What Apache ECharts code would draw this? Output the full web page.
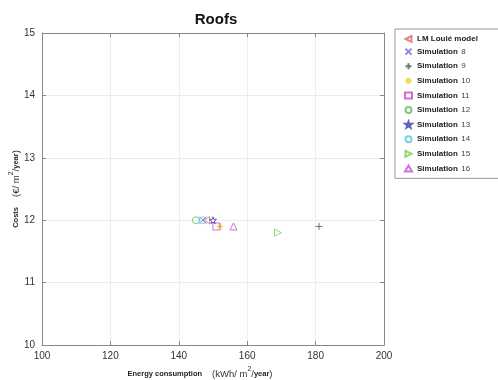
<!DOCTYPE html>
<html>
<head>
<meta charset="utf-8">
<script src="https://cdn.jsdelivr.net/npm/echarts@6/dist/echarts.min.js"></script>
<style>
  html, body { margin: 0; padding: 0; background: #fff; }
  #container { width: 498px; height: 380px; }
</style>
</head>
<body>
<div id="container"></div>
<script>
// series names and values (energy kWh/m2/year, costs €/m2/year)
let seriesNames = ['LM Loulé model', 'Simulation 8', 'Simulation 9', 'Simulation 10', 'Simulation 11',
    'Simulation 12', 'Simulation 13', 'Simulation 14', 'Simulation 15', 'Simulation 16'];
let energyValues = [148, 147, 181, 152, 151, 145, 150, 147, 169, 156];
let costValues = [12.0, 12.0, 11.9, 11.9, 11.9, 12.0, 12.0, 12.0, 11.8, 11.9];
let xTicks = [100, 120, 140, 160, 180, 200];
let yTicks = [10, 11, 12, 13, 14, 15];

// marker look per series
let symbols = [
    'path://M10 0L0 5L10 10Z',            // left triangle
    'path://M0 0L10 10M10 0L0 10',        // x
    'path://M5 0L5 10M0 5L10 5',          // +
    'path://M5 0L5 10M0 5L10 5M1.5 1.5L8.5 8.5M8.5 1.5L1.5 8.5', // asterisk-like
    'rect',
    'circle',
    'path://M5 0L6.2 3.6L10 3.6L6.9 5.9L8.1 9.5L5 7.3L1.9 9.5L3.1 5.9L0 3.6L3.8 3.6Z', // star
    'circle',
    'path://M0 0L10 5L0 10Z',             // right triangle
    'triangle'
];
let colors = ['#e06666', '#6a6ad8', '#555555', '#f2d21a', '#cc44cc', '#55c055', '#3a3aa8', '#55c8d8', '#77d055', '#c050c8'];

let series = seriesNames.map(function (name, i) {
    return {
        name: name,
        type: 'scatter',
        symbol: symbols[i],
        symbolSize: 7,
        itemStyle: {
            color: 'transparent',
            borderColor: colors[i],
            borderWidth: 1
        },
        data: [[energyValues[i], costValues[i]]]
    };
});

let myChart = echarts.init(document.getElementById('container'));
let axisLine = { show: true, lineStyle: { color: '#888', width: 1 } };
let nameRich = {
    b: { fontSize: 7.5, fontWeight: 'bold', color: '#222', fontFamily: 'Liberation Sans' },
    r: { fontSize: 9.5, color: '#333', fontFamily: 'Liberation Sans' },
    g: { width: 10 },
    s: { fontSize: 7, color: '#333', fontFamily: 'Liberation Sans', padding: [0, 0, 9, 0] }
};
let option = {
    animation: false,
    title: {
        text: 'Roofs',
        left: 211,
        top: 7,
        textAlign: 'center',
        textStyle: { fontFamily: 'Liberation Sans', fontSize: 15, fontWeight: 'bold', color: '#111' }
    },
    legend: {
        orient: 'vertical',
        left: 395,
        top: 29,
        padding: [6, 40, 4, 9],
        itemWidth: 7,
        itemHeight: 6,
        itemGap: 2.6,
        borderColor: '#999',
        borderWidth: 1,
        data: seriesNames,
        formatter: function (name) {
            if (name.indexOf('Simulation') === 0) {
                return '{b|Simulation} {n|' + name.split(' ')[1] + '}';
            }
            return '{b|' + name + '}';
        },
        textStyle: {
            fontFamily: 'Liberation Sans',
            rich: {
                b: { fontSize: 8, fontWeight: 'bold', color: '#222', fontFamily: 'Liberation Sans' },
                n: { fontSize: 8, color: '#444', fontFamily: 'Liberation Sans' }
            }
        }
    },
    grid: { left: 42, right: 114, top: 33, bottom: 35, outerBoundsMode: 'none' },
    xAxis: [{
        type: 'value',
        min: 100,
        max: 200,
        interval: 20,
        position: 'bottom',
        axisLine: axisLine,
        axisTick: { inside: true, length: 4, lineStyle: { color: '#888' } },
        axisLabel: { fontFamily: 'Liberation Sans', fontSize: 10, color: '#333', margin: 6 },
        splitLine: { show: true, lineStyle: { color: '#ececec' } },
        name: '{b|Energy consumption}{g|}{r|(kWh/ m}{s|2}{r|/}{b|year}{r|)}',
        nameLocation: 'middle',
        nameGap: 21,
        nameMoveOverlap: false,
        nameTextStyle: { padding: [0, 26, 0, 0], rich: nameRich }
    }, {
        type: 'value',
        min: 100,
        max: 200,
        interval: 20,
        position: 'top',
        axisLine: axisLine,
        axisTick: { inside: true, length: 4, lineStyle: { color: '#888' } },
        axisLabel: { show: false },
        splitLine: { show: false }
    }],
    yAxis: [{
        type: 'value',
        min: 10,
        max: 15,
        interval: 1,
        position: 'left',
        axisLine: axisLine,
        axisTick: { inside: true, length: 4, lineStyle: { color: '#888' } },
        axisLabel: { fontFamily: 'Liberation Sans', fontSize: 10, color: '#333', margin: 7 },
        splitLine: { show: true, lineStyle: { color: '#ececec' } },
        name: '{b|Costs}{g|}{r|(€/ m}{s|2}{r|/}{b|year}{r|)}',
        nameLocation: 'middle',
        nameGap: 18,
        nameMoveOverlap: false,
        nameTextStyle: { rich: nameRich }
    }, {
        type: 'value',
        min: 10,
        max: 15,
        interval: 1,
        position: 'right',
        axisLine: axisLine,
        axisTick: { inside: true, length: 4, lineStyle: { color: '#888' } },
        axisLabel: { show: false },
        splitLine: { show: false }
    }],
    series: series
};
myChart.setOption(option);
</script>
</body>
</html>
